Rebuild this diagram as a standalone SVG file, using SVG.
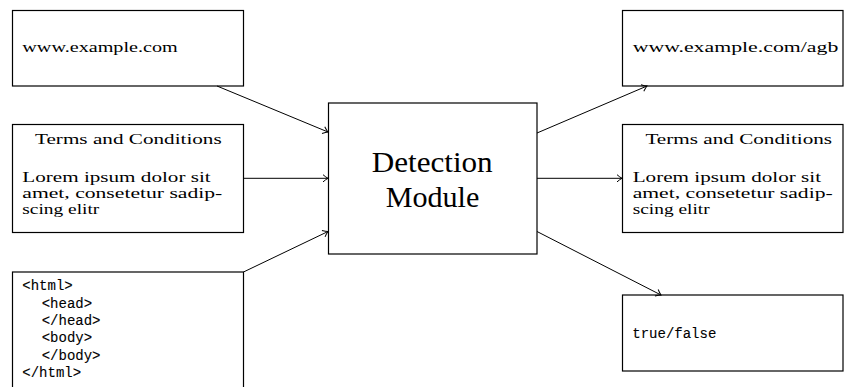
<svg xmlns="http://www.w3.org/2000/svg" width="844" height="387" viewBox="0 0 844 387">
  <defs>
    <marker id="arrow" markerUnits="userSpaceOnUse" markerWidth="12" markerHeight="12" refX="0" refY="0" viewBox="-7 -6 9 12" orient="auto">
      <path d="M -5 -3.6 Q -2 -1 0 0 Q -2 1 -5 3.6" fill="none" stroke="#000" stroke-width="1"/>
    </marker>
  </defs>
  <style>
    .box { fill: #fff; stroke: #000; stroke-width: 1.2; }
    .txt { font-size: 15px; fill: #000; }
    .big { font-size: 30px; fill: #000; }
    .mono { font-size: 14px; fill: #000; stroke: #000; stroke-width: 0.1; }
    .edge { fill: none; stroke: #000; stroke-width: 1; marker-end: url(#arrow); }
  </style>
  <rect width="844" height="387" fill="#fff"/>

  <!-- inputs -->
  <g id="url-in" font-family="Liberation Serif, serif">
    <rect class="box" x="12.5" y="10.5" width="231" height="75.5"/>
    <text class="txt" x="22.3" y="52" textLength="155.4" lengthAdjust="spacingAndGlyphs">www.example.com</text>
  </g>
  <g id="terms-in" font-family="Liberation Serif, serif">
    <rect class="box" x="12.5" y="124.5" width="231" height="108"/>
    <text class="txt" x="35" y="144" textLength="186.7" lengthAdjust="spacingAndGlyphs">Terms and Conditions</text>
    <text class="txt" x="22.3" y="182.3" textLength="188.4" lengthAdjust="spacingAndGlyphs">Lorem ipsum dolor sit</text>
    <text class="txt" x="22.3" y="198.3" textLength="200" lengthAdjust="spacingAndGlyphs">amet, consetetur sadip-</text>
    <text class="txt" x="22.3" y="214.3" textLength="77" lengthAdjust="spacingAndGlyphs">scing elitr</text>
  </g>
  <g id="html-in" font-family="Liberation Mono, monospace">
    <rect class="box" x="12.5" y="272" width="231" height="130"/>
    <text class="mono" x="22.3" y="290.2">&lt;html&gt;</text>
    <text class="mono" x="41.7" y="307.6">&lt;head&gt;</text>
    <text class="mono" x="41.7" y="325">&lt;/head&gt;</text>
    <text class="mono" x="41.7" y="342.4">&lt;body&gt;</text>
    <text class="mono" x="41.7" y="359.8">&lt;/body&gt;</text>
    <text class="mono" x="22.3" y="377.2">&lt;/html&gt;</text>
  </g>

  <!-- module -->
  <g id="detection" font-family="Liberation Serif, serif">
    <rect class="box" x="328.5" y="103" width="208.5" height="151"/>
    <text class="big" x="432.2" y="171.7" text-anchor="middle" textLength="121" lengthAdjust="spacingAndGlyphs">Detection</text>
    <text class="big" x="432.5" y="207.3" text-anchor="middle" textLength="93.7" lengthAdjust="spacingAndGlyphs">Module</text>
  </g>

  <!-- outputs -->
  <g id="url-out" font-family="Liberation Serif, serif">
    <rect class="box" x="622.5" y="10.5" width="220.5" height="75.5"/>
    <text class="txt" x="632.7" y="52" textLength="205.6" lengthAdjust="spacingAndGlyphs">www.example.com/agb</text>
  </g>
  <g id="terms-out" font-family="Liberation Serif, serif">
    <rect class="box" x="622.5" y="124.5" width="220.5" height="108"/>
    <text class="txt" x="645.4" y="144" textLength="186.7" lengthAdjust="spacingAndGlyphs">Terms and Conditions</text>
    <text class="txt" x="632.7" y="182.3" textLength="188.4" lengthAdjust="spacingAndGlyphs">Lorem ipsum dolor sit</text>
    <text class="txt" x="632.7" y="198.3" textLength="200" lengthAdjust="spacingAndGlyphs">amet, consetetur sadip-</text>
    <text class="txt" x="632.7" y="214.3" textLength="77" lengthAdjust="spacingAndGlyphs">scing elitr</text>
  </g>
  <g id="result-out" font-family="Liberation Mono, monospace">
    <rect class="box" x="622.5" y="295" width="220.5" height="76"/>
    <text class="mono" x="632.3" y="338">true/false</text>
  </g>

  <!-- connectors -->
  <g id="connectors">
    <line class="edge" x1="217" y1="86" x2="328" y2="132"/>
    <line class="edge" x1="243.5" y1="178.3" x2="328" y2="178.3"/>
    <line class="edge" x1="243.5" y1="272" x2="328" y2="231.5"/>
    <line class="edge" x1="537" y1="133" x2="647" y2="86"/>
    <line class="edge" x1="537" y1="178.3" x2="622" y2="178.3"/>
    <line class="edge" x1="537" y1="231.5" x2="661" y2="295"/>
  </g>
</svg>
